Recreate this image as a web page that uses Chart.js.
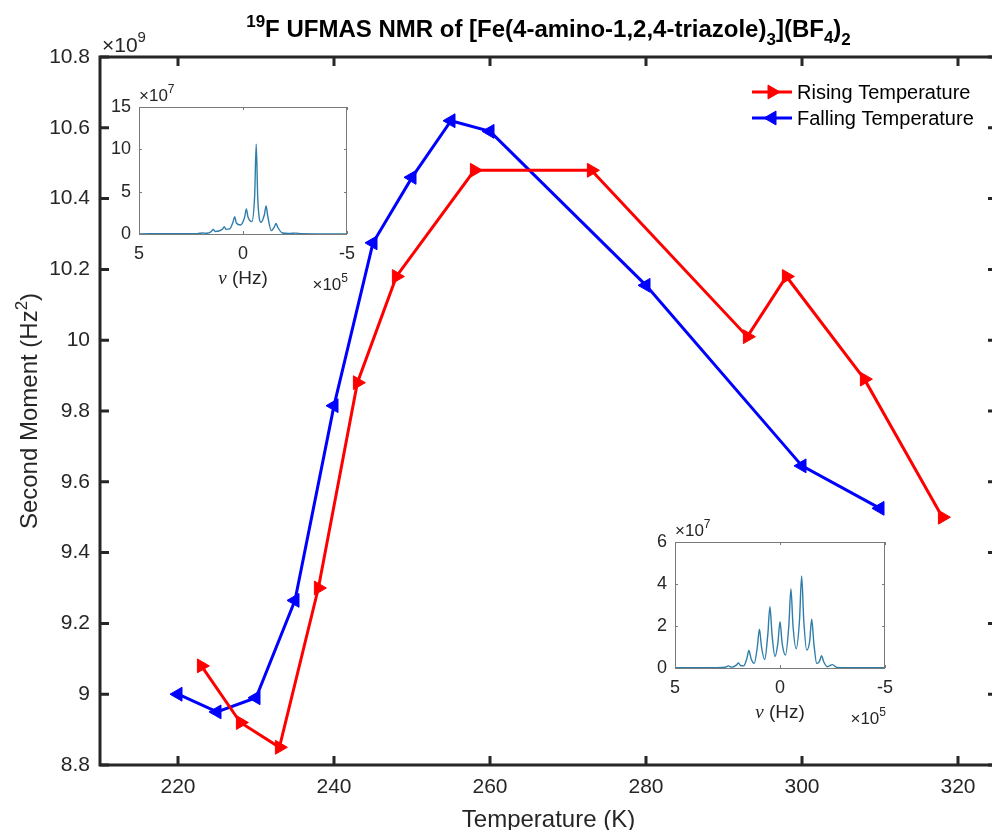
<!DOCTYPE html>
<html>
<head>
<meta charset="utf-8">
<script src="https://cdn.jsdelivr.net/npm/chart.js@4/dist/chart.umd.min.js"></script>
<style>
  html, body { margin: 0; padding: 0; background: #fff; overflow: hidden; }
  #wrap { position: relative; width: 992px; height: 830px; overflow: hidden; }
  canvas { position: absolute; }
</style>
</head>
<body>
<div id="wrap">
  <canvas id="main" width="1000" height="830" style="left:0;top:0;width:1000px;height:830px"></canvas>
  <canvas id="inset1"></canvas>
  <canvas id="inset2"></canvas>
</div>
<script>
// second moment (x 10^9 Hz^2) against temperature (K)
const riseT = [223, 228, 233, 238, 243, 248, 258, 273, 293, 298, 308, 318];
const riseM = [9.08, 8.92, 8.85, 9.30, 9.88, 10.18, 10.48, 10.48, 10.01, 10.18, 9.89, 9.50];
const fallT = [220, 225, 230, 235, 240, 245, 250, 255, 260, 280, 300, 310];
const fallM = [9.00, 8.95, 8.99, 9.265, 9.815, 10.275, 10.46, 10.62, 10.59, 10.155, 9.645, 9.525];

const tempTicks = [220, 240, 260, 280, 300, 320];
const momentTicks = [8.8, 9, 9.2, 9.4, 9.6, 9.8, 10, 10.2, 10.4, 10.6, 10.8];

// inset spectra: nu (x 10^5 Hz), intensity (x 10^7)
const nu1 = [5, 3, 2.2, 1.95, 1.75, 1.52, 1.43, 1.34, 1.16, 0.98, 0.9, 0.82, 0.64, 0.48, 0.40, 0.32, 0.12,
  -0.08, -0.16, -0.24, -0.42, -0.56, -0.635, -0.71, -0.87, -1.03, -1.11, -1.19, -1.36, -1.51, -1.59, -1.67,
  -1.9, -2.2, -2.54, -2.8, -3.5, -5];
const int1 = [0.02, 0.03, 0.05, 0.12, 0.08, 0.3, 0.55, 0.3, 0.35, 0.6, 0.87, 0.55, 0.6, 1.4, 2.05, 1.3, 1.07,
  2.0, 2.96, 2.0, 1.46, 4.5, 10.6, 4.2, 1.38, 2.3, 3.3, 2.1, 0.4, 0.85, 1.26, 0.8,
  0.12, 0.06, 0.1, 0.03, 0.02, 0.02];
const nu2 = [5, 3, 2.6, 2.46, 2.3, 2.08, 1.98, 1.88, 1.73, 1.58, 1.48, 1.38, 1.23, 1.08, 0.98, 0.88, 0.73,
  0.58, 0.48, 0.38, 0.24, 0.1, 0, -0.1, -0.26, -0.42, -0.52, -0.62, -0.77, -0.93, -1.03, -1.13,
  -1.27, -1.41, -1.51, -1.61, -1.75, -1.88, -1.98, -2.08, -2.25, -2.5, -2.7, -3.2, -5];
const int2 = [0.02, 0.02, 0.04, 0.1, 0.04, 0.14, 0.24, 0.12, 0.1, 0.45, 0.84, 0.45, 0.22, 1.0, 1.85, 1.0, 0.4,
  1.6, 2.92, 1.6, 0.55, 1.2, 2.21, 1.2, 0.62, 2.0, 3.76, 2.0, 0.92, 2.3, 4.38, 2.3,
  0.85, 1.25, 2.32, 1.2, 0.22, 0.32, 0.58, 0.3, 0.06, 0.16, 0.03, 0.02, 0.02];
const nuTicks = [5, 0, -5];
const int1Ticks = [0, 5, 10, 15];
const int2Ticks = [0, 2, 4, 6];

const RED = '#ff0000';
const BLUE = '#0000ff';
const AXIS = '#262626';
const SPEC = '#2f7dab';
const SANS = "'Liberation Sans', Arial, sans-serif";

Chart.defaults.font.family = SANS;
Chart.defaults.color = AXIS;

// draw a row of text pieces (for sub/superscripts)
function rich(ctx, parts, x, y, align) {
  let w = 0;
  parts.forEach(p => { ctx.font = p.font; p.w = ctx.measureText(p.t).width; w += p.w; });
  let cx = align === 'center' ? x - w / 2 : align === 'right' ? x - w : x;
  ctx.textAlign = 'left';
  ctx.textBaseline = 'alphabetic';
  parts.forEach(p => { ctx.font = p.font; ctx.fillText(p.t, cx, y + (p.dy || 0)); cx += p.w; });
}

function marker(ctx, color, rot, x, y) {
  ctx.fillStyle = color;
  ctx.strokeStyle = color;
  ctx.lineWidth = 1;
  Chart.helpers.drawPoint(ctx, {pointStyle: 'triangle', rotation: rot, radius: 8, borderWidth: 1}, x, y);
}

const frame = {
  id: 'frame',
  afterDraw(chart) {
    const {ctx, chartArea: a, scales: {x, y}} = chart;
    ctx.save();
    ctx.strokeStyle = AXIS;
    ctx.lineWidth = 3;
    ctx.strokeRect(a.left, a.top, a.right - a.left, a.bottom - a.top);
    ctx.beginPath();
    x.ticks.forEach(t => {
      const p = x.getPixelForValue(t.value);
      ctx.moveTo(p, a.bottom); ctx.lineTo(p, a.bottom - 9);
      ctx.moveTo(p, a.top); ctx.lineTo(p, a.top + 9);
    });
    y.ticks.forEach(t => {
      const p = y.getPixelForValue(t.value);
      ctx.moveTo(a.left, p); ctx.lineTo(a.left + 9, p);
      ctx.moveTo(a.right, p); ctx.lineTo(a.right - 9, p);
    });
    ctx.stroke();

    // title
    ctx.fillStyle = '#000';
    const tb = 'bold 24px ' + SANS, ts = 'bold 17px ' + SANS;
    rich(ctx, [
      {t: '19', font: ts, dy: -10},
      {t: 'F UFMAS NMR of [Fe(4-amino-1,2,4-triazole)', font: tb},
      {t: '3', font: ts, dy: 8},
      {t: '](BF', font: tb},
      {t: '4', font: ts, dy: 6},
      {t: ')', font: tb},
      {t: '2', font: ts, dy: 8}
    ], (a.left + a.right) / 2, 37, 'center');

    // axis labels
    ctx.fillStyle = AXIS;
    rich(ctx, [
      {t: '\u00d710', font: '21px ' + SANS},
      {t: '9', font: '15px ' + SANS, dy: -10}
    ], a.left + 2, 52, 'left');
    rich(ctx, [{t: 'Temperature (K)', font: '24px ' + SANS}], (a.left + a.right) / 2, 827, 'center');
    ctx.save();
    ctx.translate(28, (a.top + a.bottom) / 2);
    ctx.rotate(-Math.PI / 2);
    rich(ctx, [
      {t: 'Second Moment (Hz', font: '24px ' + SANS},
      {t: '2', font: '17px ' + SANS, dy: -10},
      {t: ')', font: '24px ' + SANS}
    ], 0, 9, 'center');
    ctx.restore();

    // legend
    const rows = [
      {label: 'Rising Temperature', color: RED, rot: 90, y: 92},
      {label: 'Falling Temperature', color: BLUE, rot: -90, y: 118}
    ];
    rows.forEach(r => {
      ctx.strokeStyle = r.color;
      ctx.lineWidth = 3;
      ctx.beginPath();
      ctx.moveTo(752, r.y); ctx.lineTo(792, r.y);
      ctx.stroke();
      marker(ctx, r.color, r.rot, 772, r.y);
      ctx.fillStyle = '#000';
      ctx.font = '20px ' + SANS;
      ctx.textAlign = 'left';
      ctx.textBaseline = 'middle';
      ctx.fillText(r.label, 797, r.y + 1);
    });
    ctx.restore();
  }
};

new Chart(document.getElementById('main'), {
  type: 'line',
  data: {
    datasets: [
      {
        label: 'Rising Temperature',
        data: riseT.map((t, i) => ({x: t, y: riseM[i]})),
        borderColor: RED, backgroundColor: RED, borderWidth: 3,
        pointStyle: 'triangle', pointRotation: 90, pointRadius: 8, pointBorderWidth: 1,
        tension: 0
      },
      {
        label: 'Falling Temperature',
        data: fallT.map((t, i) => ({x: t, y: fallM[i]})),
        borderColor: BLUE, backgroundColor: BLUE, borderWidth: 3,
        pointStyle: 'triangle', pointRotation: -90, pointRadius: 8, pointBorderWidth: 1,
        tension: 0
      }
    ]
  },
  options: {
    responsive: false,
    animation: false,
    events: [],
    layout: {padding: {left: 0, top: 57, right: 3, bottom: 0}, autoPadding: false},
    plugins: {legend: {display: false}, title: {display: false}, tooltip: {enabled: false}},
    scales: {
      x: {
        type: 'linear', min: 210, max: 325,
        afterFit: s => { s.height = 65; },
        afterBuildTicks: s => { s.ticks = tempTicks.map(v => ({value: v})); },
        grid: {display: false, drawTicks: false},
        border: {display: false},
        ticks: {padding: 10, font: {size: 21}, color: AXIS, maxRotation: 0, autoSkip: false, callback: v => String(v)}
      },
      y: {
        type: 'linear', min: 8.8, max: 10.8,
        afterFit: s => { s.width = 100; },
        afterBuildTicks: s => { s.ticks = momentTicks.map(v => ({value: v})); },
        grid: {display: false, drawTicks: false},
        border: {display: false},
        ticks: {padding: 10, font: {size: 21}, color: AXIS, autoSkip: false, callback: v => String(v)}
      }
    }
  },
  plugins: [frame]
});

// inset spectra
function inset(id, box, nu, inten, yTicks) {
  const cv = document.getElementById(id);
  const w = box.w + 62, h = box.h + 100;
  cv.width = w; cv.height = h;
  cv.style.left = (box.x - 44) + 'px';
  cv.style.top = (box.y - 27) + 'px';
  cv.style.width = w + 'px';
  cv.style.height = h + 'px';

  const insetFrame = {
    id: 'insetFrame',
    beforeDraw(chart) {
      const {ctx, chartArea: a} = chart;
      ctx.save();
      ctx.fillStyle = '#fff';
      ctx.fillRect(a.left, a.top, a.right - a.left, a.bottom - a.top);
      ctx.restore();
    },
    afterDraw(chart) {
      const {ctx, chartArea: a, scales: {x, y}} = chart;
      ctx.save();
      ctx.strokeStyle = '#7a7a7a';
      ctx.lineWidth = 1;
      ctx.strokeRect(a.left + 0.5, a.top + 0.5, a.right - a.left - 1, a.bottom - a.top);
      ctx.beginPath();
      x.ticks.forEach(t => {
        const p = Math.round(x.getPixelForValue(t.value)) + 0.5;
        ctx.moveTo(p, a.bottom); ctx.lineTo(p, a.bottom - 3);
        ctx.moveTo(p, a.top); ctx.lineTo(p, a.top + 3);
      });
      y.ticks.forEach(t => {
        const p = Math.round(y.getPixelForValue(t.value)) + 0.5;
        ctx.moveTo(a.left, p); ctx.lineTo(a.left + 3, p);
        ctx.moveTo(a.right, p); ctx.lineTo(a.right - 3, p);
      });
      ctx.stroke();
      ctx.fillStyle = AXIS;
      rich(ctx, [
        {t: '\u00d710', font: '17px ' + SANS},
        {t: '7', font: '12px ' + SANS, dy: -8}
      ], a.left, a.top - 6, 'left');
      rich(ctx, [
        {t: '\u00d710', font: '17px ' + SANS},
        {t: '5', font: '12px ' + SANS, dy: -8}
      ], a.right + 1, a.bottom + 56, 'right');
      rich(ctx, [
        {t: '\u03bd', font: 'italic 19px "Liberation Serif", serif'},
        {t: ' (Hz)', font: '19px ' + SANS}
      ], (a.left + a.right) / 2, a.bottom + 50, 'center');
      ctx.restore();
    }
  };

  new Chart(cv, {
    type: 'line',
    data: {
      datasets: [{
        data: nu.map((v, i) => ({x: v, y: inten[i]})),
        borderColor: SPEC, borderWidth: 1.4, pointRadius: 0,
        cubicInterpolationMode: 'monotone'
      }]
    },
    options: {
      responsive: false,
      animation: false,
      events: [],
      layout: {padding: {left: 0, top: 27, right: 18, bottom: 0}, autoPadding: false},
      plugins: {legend: {display: false}, title: {display: false}, tooltip: {enabled: false}},
      scales: {
        x: {
          type: 'linear', min: -5, max: 5, reverse: true,
          afterFit: s => { s.height = 73; },
          afterBuildTicks: s => { s.ticks = nuTicks.map(v => ({value: v})); },
          grid: {display: false, drawTicks: false},
          border: {display: false},
          ticks: {padding: 9, font: {size: 18}, color: AXIS, maxRotation: 0, autoSkip: false, callback: v => String(v)}
        },
        y: {
          type: 'linear', min: yTicks[0], max: yTicks[yTicks.length - 1],
          afterFit: s => { s.width = 44; },
          afterBuildTicks: s => { s.ticks = yTicks.map(v => ({value: v})); },
          grid: {display: false, drawTicks: false},
          border: {display: false},
          ticks: {padding: 8, font: {size: 18}, color: AXIS, autoSkip: false, callback: v => String(v)}
        }
      }
    },
    plugins: [insetFrame]
  });
}

inset('inset1', {x: 139, y: 107, w: 208, h: 127}, nu1, int1, int1Ticks);
inset('inset2', {x: 675, y: 542, w: 210, h: 126}, nu2, int2, int2Ticks);
</script>
</body>
</html>
